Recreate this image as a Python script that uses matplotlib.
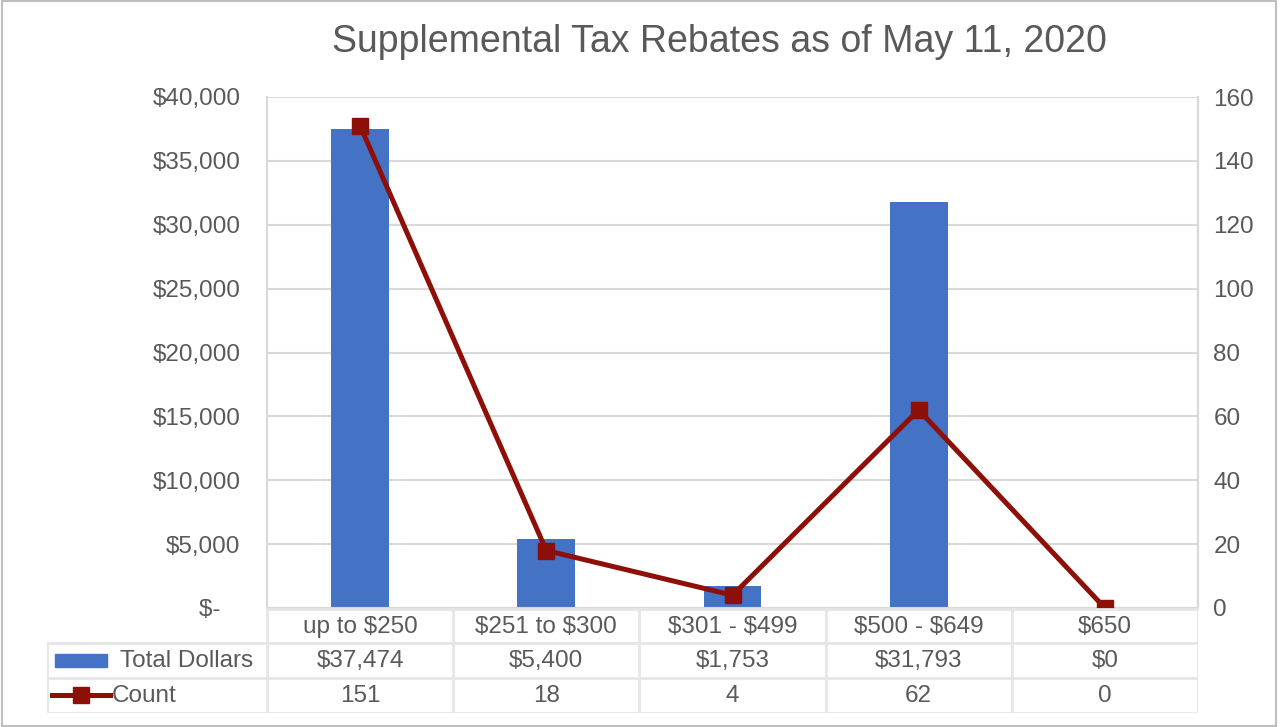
import matplotlib
matplotlib.use("Agg")
import matplotlib.pyplot as plt
from matplotlib.patches import Rectangle
from matplotlib.lines import Line2D
from matplotlib.ticker import FuncFormatter

categories = ["up to $250", "$251 to $300", "$301 - $499", "$500 - $649", "$650"]
total_dollars = [37474, 5400, 1753, 31793, 0]
counts = [151, 18, 4, 62, 0]
title = "Supplemental Tax Rebates as of May 11, 2020"
series_names = ["Total Dollars", "Count"]

W, H = 1282, 727
DPI = 100
plt.rcParams['font.family'] = ['Liberation Sans', 'DejaVu Sans']
plt.rcParams['text.parse_math'] = False
TXT = '#595959'
GRID = '#D9D9D9'
BLUE = '#4472C4'
RED = '#8E0F08'
FS = 17.5

fig = plt.figure(figsize=(W / DPI, H / DPI), dpi=DPI)

def fx(px):
    return px / W

def fy(py):
    return 1 - py / H

# plot area
L, R, T, B = 267, 1198, 97, 608
ax = fig.add_axes([fx(L), fy(B), fx(R - L), (B - T) / H])
x = list(range(len(categories)))
ax.bar(x, total_dollars, width=0.31, color=BLUE, zorder=2)
ax.set_xlim(-0.5, len(categories) - 0.5)
ax.set_ylim(0, 40000)
ax.set_yticks(range(0, 40001, 5000))

def dollar_fmt(v, pos):
    if v == 0:
        return "$-   "
    return "${:,.0f}".format(v)

ax.yaxis.set_major_formatter(FuncFormatter(dollar_fmt))
ax.set_xticks([])
ax.grid(axis='y', color=GRID, lw=1.5, zorder=0)
ax.spines['top'].set_visible(False)
for s in ['left', 'right', 'bottom']:
    ax.spines[s].set_color(GRID)
    ax.spines[s].set_linewidth(1.5)
ax.tick_params(axis='y', length=0, labelsize=FS, labelcolor=TXT, pad=19)

ax2 = ax.twinx()
ax2.plot(x, counts, color=RED, lw=3.6, marker='s', markersize=12, zorder=3)
ax2.set_ylim(0, 160)
ax2.set_yticks(range(0, 161, 20))
ax2.tick_params(axis='y', length=0, labelsize=FS, labelcolor=TXT, pad=11)
for s in ['top', 'left', 'bottom']:
    ax2.spines[s].set_visible(False)
ax2.spines['right'].set_color(GRID)
ax2.spines['right'].set_linewidth(1.5)

# title
fig.text(fx(719), fy(42), title, ha='center', va='center', fontsize=27, color=TXT)

# data table
TL, TT, TB = 47, 608, 713
tab = fig.add_axes([fx(TL), fy(TB), fx(R - TL), (TB - TT) / H])
catw = (R - L) / len(categories)
left_unit = -0.5 - (L - TL) / catw
tab.set_xlim(left_unit, len(categories) - 0.5)
tab.set_ylim(TB, TT)
tab.axis('off')
row_y = [609, 643, 678, 713]
lc = '#E6E6E6'
lw = 2
tab.plot([-0.5, len(categories) - 0.5], [row_y[0], row_y[0]], color=lc, lw=lw)
for yy in row_y[1:]:
    tab.plot([left_unit, len(categories) - 0.5], [yy, yy], color=lc, lw=lw)
for i in range(len(categories) + 1):
    xv = -0.5 + i
    tab.plot([xv, xv], [row_y[0], row_y[3]], color=lc, lw=lw)
tab.plot([left_unit, left_unit], [row_y[1], row_y[3]], color=lc, lw=lw)

for i, c in enumerate(categories):
    tab.text(i, (row_y[0] + row_y[1]) / 2 + 1, c, ha='center', va='center', fontsize=FS, color=TXT)
    tab.text(i, (row_y[1] + row_y[2]) / 2 + 1, "${:,}".format(total_dollars[i]), ha='center', va='center', fontsize=FS, color=TXT)
    tab.text(i, (row_y[2] + row_y[3]) / 2 + 1, str(counts[i]), ha='center', va='center', fontsize=FS, color=TXT)

# legend keys in table
fig.patches.append(Rectangle((fx(55), fy(667)), fx(52), 13 / H, color=BLUE, transform=fig.transFigure, figure=fig))
fig.lines.append(Line2D([fx(52), fx(110)], [fy(695), fy(695)], color=RED, lw=3.6, transform=fig.transFigure, figure=fig))
fig.lines.append(Line2D([fx(81)], [fy(695)], color=RED, marker='s', markersize=11, lw=0, transform=fig.transFigure, figure=fig))
fig.text(fx(120), fy(661), series_names[0], ha='left', va='center', fontsize=FS, color=TXT)
fig.text(fx(112), fy(696), series_names[1], ha='left', va='center', fontsize=FS, color=TXT)

# outer border
fig.patches.append(Rectangle((fx(2), fy(726)), fx(1274), 725 / H, fill=False, edgecolor='#BFBFBF', lw=1.5, transform=fig.transFigure, figure=fig))

fig.savefig("out.png", dpi=DPI)
